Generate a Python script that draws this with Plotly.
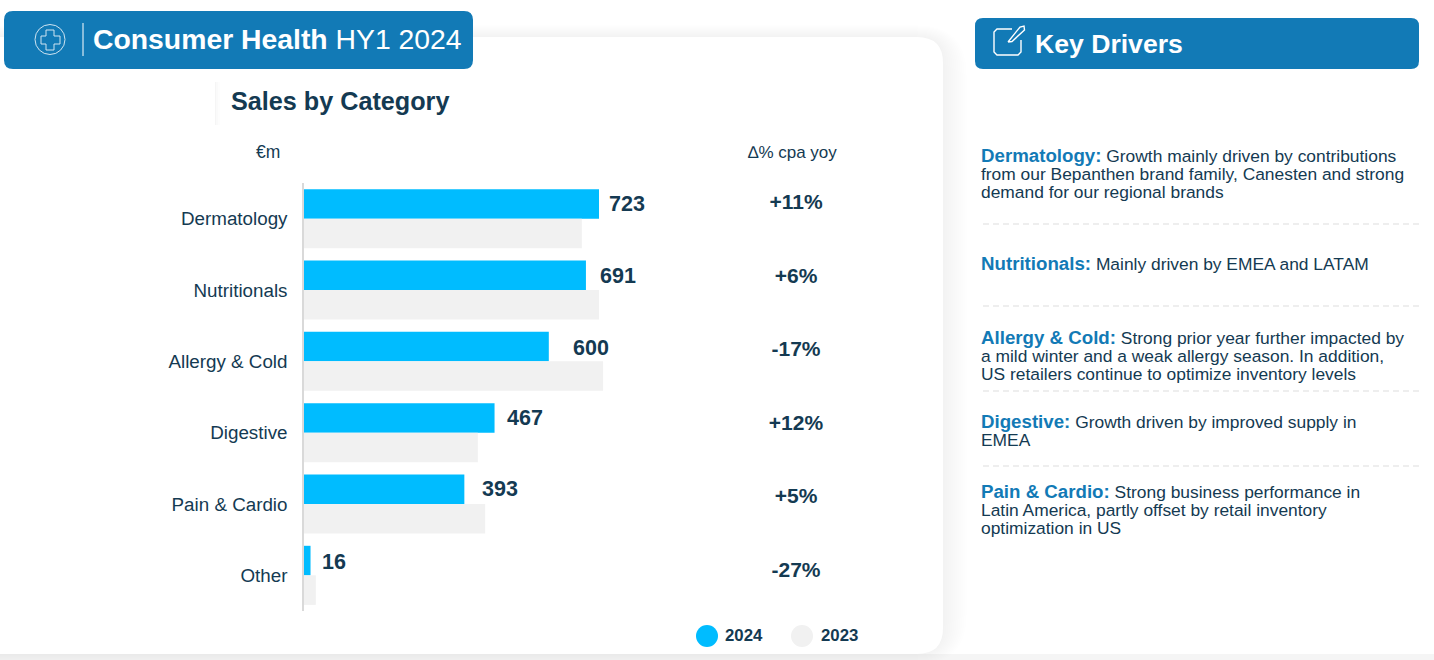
import plotly.graph_objects as go

W, H = 1434, 660
categories = ["Dermatology", "Nutritionals", "Allergy & Cold", "Digestive", "Pain & Cardio", "Other"]
sales_2024 = [723, 691, 600, 467, 393, 16]
sales_2023 = [681, 723, 733, 426, 444, 29]
delta_cpa = ["+11%", "+6%", "-17%", "+12%", "+5%", "-27%"]
label_gaps = [8, 12, 22, 10, 16, 9]
label_rises = [15, 14, 13, 15, 15, 13]

BLUE = "#00BCFF"
GREY = "#F1F1F1"
DARK = "#143A52"
HEAD = "#127AB6"
FONT = "Liberation Sans, Arial, sans-serif"

driver_lines = [
    (156, "Dermatology:", " Growth mainly driven by contributions"),
    (174, "", "from our Bepanthen brand family, Canesten and strong"),
    (192, "", "demand for our regional brands"),
    (264, "Nutritionals:", " Mainly driven by EMEA and LATAM"),
    (338, "Allergy &amp; Cold:", " Strong prior year further impacted by"),
    (356, "", "a mild winter and a weak allergy season. In addition,"),
    (374, "", "US retailers continue to optimize inventory levels"),
    (422, "Digestive:", " Growth driven by improved supply in"),
    (440, "", "EMEA"),
    (492, "Pain &amp; Cardio:", " Strong business performance in"),
    (510, "", "Latin America, partly offset by retail inventory"),
    (528, "", "optimization in US"),
]
dash_rows = [224, 306, 391, 466]

px = lambda x: x / W
py = lambda y: 1 - y / H


def rrect(x0, y0, x1, y1, r):
    X0, X1, Y0, Y1 = px(x0), px(x1), py(y0), py(y1)
    rx, ry = r / W, r / H
    return (f"M{X0+rx},{Y0} L{X1-rx},{Y0} Q{X1},{Y0} {X1},{Y0-ry} L{X1},{Y1+ry} Q{X1},{Y1} {X1-rx},{Y1} "
            f"L{X0+rx},{Y1} Q{X0},{Y1} {X0},{Y1+ry} L{X0},{Y0-ry} Q{X0},{Y0} {X0+rx},{Y0} Z")


shapes = []


def paper_shape(**k):
    shapes.append(dict(xref="paper", yref="paper", layer=k.pop("layer", "below"), **k))


def path(points, color, width=1.2, fill=None, layer="above"):
    d = "M" + " L".join(f"{px(a)},{py(b)}" for a, b in points)
    paper_shape(type="path", path=d, line=dict(color=color, width=width),
                fillcolor=fill or "rgba(0,0,0,0)", layer=layer)


# page band, soft card shadow and card
paper_shape(type="rect", x0=0, x1=1, y0=py(660), y1=py(654), fillcolor="#F5F5F5", line_width=0)
for grow in range(24, 0, -2):
    paper_shape(type="path", path=rrect(-40, 37 - grow * .5, 943 + grow, 653 + grow * .5, 26 + grow),
                fillcolor="rgba(0,0,0,0.0042)", line_width=0)
paper_shape(type="path", path=rrect(-40, 37, 943, 654, 26), fillcolor="white", line_width=0)

# faint separators
for w in [3, 6, 9, 12, 15]:
    paper_shape(type="rect", x0=px(690 - w), x1=px(690), y0=py(590), y1=py(160),
                fillcolor="rgba(0,0,0,0.0014)", line_width=0)
for w, a in [(1, .02), (3, .012), (5, .008)]:
    paper_shape(type="rect", x0=px(215), x1=px(215 + w), y0=py(125), y1=py(82),
                fillcolor=f"rgba(0,0,0,{a})", line_width=0)

# header bars
paper_shape(type="path", path=rrect(4, 11, 473, 69, 9), fillcolor=HEAD, line_width=0, layer="above")
paper_shape(type="path", path=rrect(975, 18, 1419, 69, 8), fillcolor=HEAD, line_width=0, layer="above")
path([(83, 23), (83, 56)], "white", 1)

# cross icon
paper_shape(type="circle", x0=px(35), x1=px(65), y0=py(54.5), y1=py(24.5),
            line=dict(color="#CFE4F1", width=1), layer="above")
path([(46, 30), (54, 30), (54, 36), (60, 36), (60, 44), (54, 44), (54, 50), (46, 50), (46, 44),
      (41, 44), (41, 36), (46, 36), (46, 30)], "#CFE4F1", 1)

# note icon
path([(1012, 29), (997, 29), (994, 32), (994, 52), (997, 55), (1018, 55), (1021, 52), (1021, 40)], "white", 1.4)
path([(1008, 42), (1020, 27), (1024, 26), (1024.5, 30), (1012, 41.5), (1008, 42)], "white", 1.4)

# legend dots
paper_shape(type="circle", x0=px(696), x1=px(718), y0=py(647), y1=py(625), fillcolor=BLUE, line_width=0, layer="above")
paper_shape(type="circle", x0=px(791), x1=px(813), y0=py(647), y1=py(625), fillcolor=GREY, line_width=0, layer="above")

# dashed dividers
for r in dash_rows:
    paper_shape(type="line", x0=px(983), x1=px(1419), y0=py(r), y1=py(r),
                line=dict(color="#DDDDDD", width=1, dash="6px,4px"))

annotations = []


def txt(x, y, s, size, color=DARK, anchor="left"):
    annotations.append(dict(xref="paper", yref="paper", x=px(x), y=py(y), text=s, showarrow=False,
                            xanchor=anchor, yanchor="middle", align=anchor,
                            font=dict(family=FONT, size=size, color=color), borderpad=0))


txt(92, 39, "<b>Consumer Health</b> HY1 2024", 28.35, "white")
txt(1034, 44, "<b>Key Drivers</b>", 26.6, "white")
txt(230, 101, "<b>Sales by Category</b>", 25.2)
txt(267.5, 152, "€m", 17.5, anchor="center")
txt(792.5, 152, "∆% cpa yoy", 17, anchor="center")
txt(724, 635.5, "<b>2024</b>", 16.8)
txt(820, 635.5, "<b>2023</b>", 16.8)

for y, head, rest in driver_lines:
    s = f'<span style="color:{HEAD};font-size:18.7px"><b>{head}</b></span>' if head else ""
    txt(980, y - (0.8 if head else 0), s + rest, 17.4)

ys = list(range(len(categories)))
fig = go.Figure()
fig.add_bar(y=ys, x=sales_2024, name="2024", orientation="h", marker=dict(color=BLUE, line_width=0),
            offsetgroup="a", showlegend=False)
fig.add_bar(y=ys, x=sales_2023, name="2023", orientation="h", marker=dict(color=GREY, line_width=0),
            offsetgroup="b", showlegend=False)
fig.add_scatter(y=ys, x=[0] * len(ys), mode="text", text=delta_cpa, xaxis="x2", yaxis="y2", showlegend=False,
                textposition="middle center", textfont=dict(family=FONT, size=21, color=DARK),
                texttemplate="<b>%{text}</b>")

for y, v, g, r in zip(ys, sales_2024, label_gaps, label_rises):
    annotations.append(dict(xref="x", yref="y", x=v, y=y, xshift=g, yshift=r, text=f"<b>{v}</b>", showarrow=False,
                            xanchor="left", yanchor="middle", font=dict(family=FONT, size=21.5, color=DARK)))

PLOT_X0, PLOT_X1 = 304, 894
PX_PER_UNIT = 295 / 723
fig.update_layout(
    width=W, height=H, margin=dict(l=0, r=0, t=0, b=0), autosize=False,
    paper_bgcolor="white", plot_bgcolor="rgba(0,0,0,0)",
    barmode="group", bargap=0.172, bargroupgap=0,
    shapes=shapes, annotations=annotations,
    xaxis=dict(domain=[px(PLOT_X0), px(PLOT_X1)], range=[0, (PLOT_X1 - PLOT_X0) / PX_PER_UNIT], visible=False),
    yaxis=dict(domain=[py(611), py(183)], range=[5.5, -0.5], tickvals=ys, ticktext=categories,
               showgrid=False, zeroline=False, showline=True, linecolor="#D9D9D9", linewidth=1.5, anchor="x",
               ticks="", ticklabelstandoff=11, tickfont=dict(family=FONT, size=18.8, color=DARK)),
    xaxis2=dict(domain=[px(692), px(900)], range=[-1, 1], visible=False, anchor="y2"),
    yaxis2=dict(domain=[py(608), py(167)], range=[5.5, -0.5], visible=False, anchor="x2"),
)
fig.write_html("out.html", config=dict(displayModeBar=False),
               post_script="document.body.style.margin='0';document.documentElement.style.overflow='hidden';")
